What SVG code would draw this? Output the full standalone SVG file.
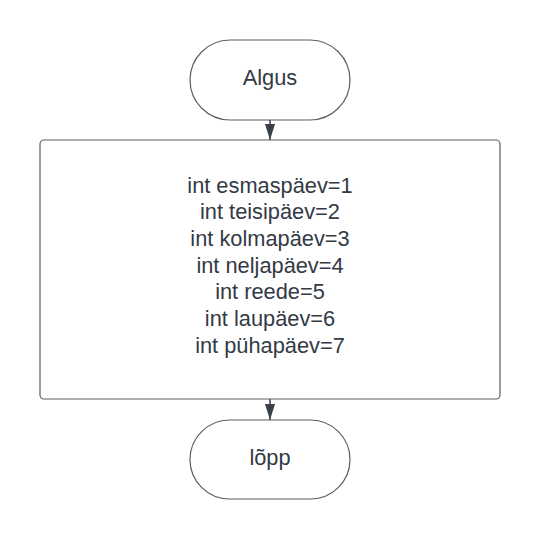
<svg xmlns="http://www.w3.org/2000/svg" width="540" height="540" viewBox="0 0 540 540">
<defs>
<style>
.shape{fill:#ffffff;stroke:#5e5e5e;stroke-width:1.2}
.lbl{font-family:"Liberation Sans",Arial,sans-serif;font-size:21.8px;fill:#333a45;text-anchor:middle}
.conn{stroke:#3a414a;stroke-width:1.5;fill:none}
</style>
<marker id="arr" viewBox="0 0 10 16" refX="10" refY="5" markerWidth="16" markerHeight="10" markerUnits="userSpaceOnUse" orient="auto">
<path d="M0,0 L10,5 L0,10 Z" fill="#3a414a"/>
</marker>
<marker id="arrow" viewBox="0 0 16 10" refX="16" refY="5" markerWidth="16" markerHeight="10" markerUnits="userSpaceOnUse" orient="auto">
<path d="M0,0 L16,5 L0,10 Z" fill="#3a414a"/>
</marker>
</defs>
<rect width="540" height="540" fill="#ffffff"/>
<g id="connectors">
<path class="conn" d="M270,120 L270,140" marker-end="url(#arrow)"/>
<path class="conn" d="M270,399 L270,420" marker-end="url(#arrow)"/>
</g>
<g id="start">
<rect class="shape" x="190" y="40" width="160" height="80" rx="40" ry="40"/>
<text class="lbl" x="270" y="84.5">Algus</text>
</g>
<g id="process">
<rect class="shape" x="40" y="140" width="460" height="259" rx="4" ry="4"/>
<text class="lbl" x="270" y="192.7">int esmaspäev=1</text>
<text class="lbl" x="270" y="219.3">int teisipäev=2</text>
<text class="lbl" x="270" y="246">int kolmapäev=3</text>
<text class="lbl" x="270" y="272.7">int neljapäev=4</text>
<text class="lbl" x="270" y="299.3">int reede=5</text>
<text class="lbl" x="270" y="326">int laupäev=6</text>
<text class="lbl" x="270" y="352.7">int pühapäev=7</text>
</g>
<g id="end">
<rect class="shape" x="190" y="420" width="160" height="79" rx="39.5" ry="39.5"/>
<text class="lbl" x="270" y="464.5">lõpp</text>
</g>
</svg>
